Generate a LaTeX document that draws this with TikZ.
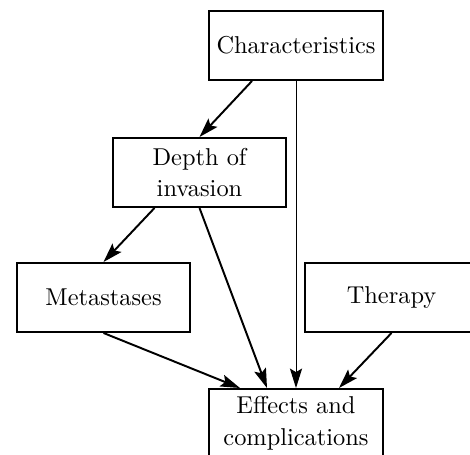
\documentclass[tikz,border=0pt]{standalone}
\usetikzlibrary{positioning,arrows.meta,calc}

\begin{document}
\begin{tikzpicture}[->,>={Stealth[length=8pt,width=5pt,inset=1.5pt]},x=0.41pt,y=-0.41pt,
    font=\fontsize{10}{13}\selectfont,
    box node/.style={rectangle,draw,thick,align=center,minimum width=71.3pt,minimum height=28.3pt,inner sep=2pt},
    link/.style={thick}]

\useasboundingbox (0,0) rectangle (470,455);
\clip (0,0) rectangle (470,455);

\node[box node] (char)    at (296,45.5)  {Characteristics};
\node[box node] (depth)   at (199.5,172.5) {Depth of\\invasion};
\node[box node] (meta)    at (103.5,297.5) {Metastases};
\node[box node] (therapy) at (391.5,297.5) {Therapy};
\node[box node] (effects) at (296,423.5) {Effects and\\complications};

\draw[link] ($(char.south)+(-44,0)$) -- (depth.north);
\draw[thin] (char.south) -- (effects.north);
\draw[link] ($(depth.south)+(-45,0)$) -- (meta.north);
\draw[link] (depth.south) -- ($(effects.north)+(-29,0)$);
\draw[link] (meta.south) -- ($(effects.north)+(-56,0)$);
\draw[link] (therapy.south) -- ($(effects.north)+(43,0)$);
\end{tikzpicture}
\end{document}
